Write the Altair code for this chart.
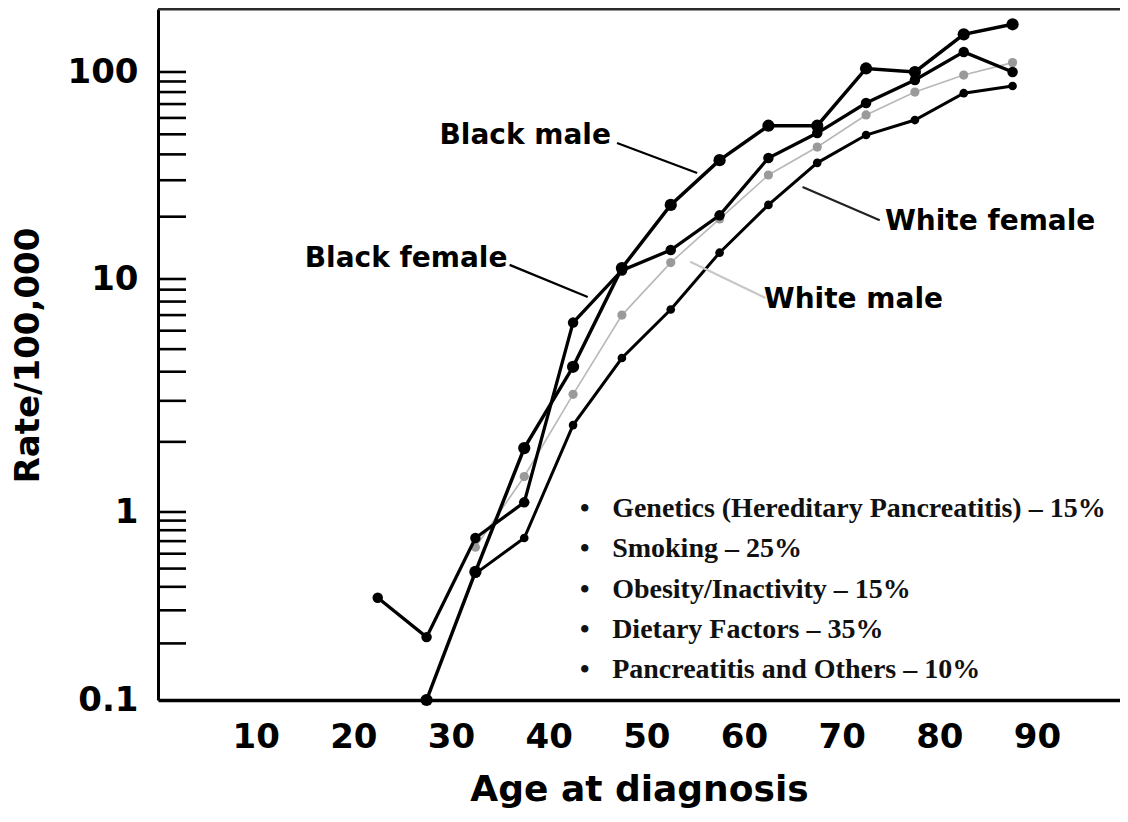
import altair as alt
import pandas as pd

# ---- data ----
ages = [22.5, 27.5, 32.5, 37.5, 42.5, 47.5, 52.5, 57.5, 62.5, 67.5, 72.5, 77.5, 82.5, 87.5]
black_male = [None, 0.10, 0.48, 1.88, 4.2, 11.3, 22.8, 37.5, 55, 55, 104, 100, 152, 170]
black_female = [0.35, 0.216, 0.727, 1.10, 6.5, 11.0, 13.8, 20.3, 38.4, 50.7, 70.8, 91.5, 125, 100]
white_female = [None, None, 0.47, 0.727, 2.36, 4.58, 7.4, 13.4, 22.8, 36.4, 49.6, 58.6, 79, 85.6]
white_male = [None, None, 0.65, 1.42, 3.2, 7.0, 12.0, 19.5, 31.8, 43.4, 62, 80, 96.7, 111]

x_tick_labels = [10, 20, 30, 40, 50, 60, 70, 80, 90]
y_tick_labels = [0.1, 1, 10, 100]
y_minor_ticks = [0.2, 0.3, 0.4, 0.5, 0.6, 0.7, 0.8, 0.9, 1, 2, 3, 4, 5, 6, 7, 8, 9,
                 10, 20, 30, 40, 50, 60, 70, 80, 90, 100]

label_text = ["Black male", "Black female", "White female", "White male"]
label_age = [37.6, 25.4, 85.2, 71.2]
label_rate = [44.9, 11.4, 17.3, 7.51]

pointer_series = ["Black male", "Black female", "White female", "White male"]
pointer_age1 = [47.0, 36.0, 73.9, 62.2]
pointer_age2 = [55.2, 44.0, 66.0, 54.5]
pointer_rate1 = [45.4, 11.7, 19.2, 8.29]
pointer_rate2 = [32.5, 8.37, 27.8, 12.1]

risk_lines = [
    "Genetics (Hereditary Pancreatitis) \u2013 15%",
    "Smoking \u2013 25%",
    "Obesity/Inactivity \u2013 15%",
    "Dietary Factors \u2013 35%",
    "Pancreatitis and Others \u2013 10%",
]
risk_age = [46.5]
risk_rate = [0.94]
bullet_age = [43.7]

# ---- tables ----
rows = []
for name, vals in [("White male", white_male), ("White female", white_female),
                   ("Black female", black_female), ("Black male", black_male)]:
    for a, v in zip(ages, vals):
        if v is not None:
            rows.append({"age": a, "rate": v, "series": name})
df = pd.DataFrame(rows)

ticks_df = pd.DataFrame({"v": y_minor_ticks})
labels_df = pd.DataFrame({"ax": label_age, "ay": label_rate, "text": label_text})
ptr_df = pd.DataFrame({"s": pointer_series, "x1": pointer_age1, "x2": pointer_age2,
                       "y1": pointer_rate1, "y2": pointer_rate2})
risk_df = pd.DataFrame({"ax": risk_age, "ay": risk_rate, "bx": bullet_age})

W, H = 962, 691
SANS = "DejaVu Sans"
SERIF = "Liberation Serif"

yscale = alt.Scale(type="log", domain=[0.1, 1, 10, 100, 201.5],
                   range=[691, 503, 270, 63, 0], nice=False)
xscale = alt.Scale(domain=[0, 98.5], nice=False, zero=False)

yaxis = alt.Axis(values=y_tick_labels, format="~g", ticks=False, grid=False,
                 domainWidth=3, domainColor="black",
                 labelFont=SANS, labelFontSize=34, labelFontWeight="bold",
                 labelColor="black", labelPadding=20, labelFlush=False,
                 labelOverlap=False, labelBound=False,
                 title="Rate/100,000", titleFont=SANS, titleFontSize=34,
                 titleFontWeight="bold", titleColor="black",
                 titleX=-130, titleY=346, titleBaseline="middle")
xaxis = alt.Axis(values=x_tick_labels, ticks=False, grid=False,
                 domainWidth=3.5, domainColor="black",
                 labelFont=SANS, labelFontSize=34, labelFontWeight="bold",
                 labelColor="black", labelPadding=20, labelFlush=False,
                 labelOverlap=False,
                 title="Age at diagnosis", titleFont=SANS, titleFontSize=36,
                 titleFontWeight="bold", titleColor="black",
                 titleX=W / 2, titleY=89, titleBaseline="middle")


def X(f):
    return alt.X(f, type="quantitative", scale=xscale, axis=xaxis, title="Age at diagnosis")


def Y(f):
    return alt.Y(f, type="quantitative", scale=yscale, axis=yaxis, title="Rate/100,000")


styles = {
    "White male": dict(line="#b8b8b8", lw=1.6, pt="#9a9a9a", size=85),
    "White female": dict(line="black", lw=3, pt="black", size=75),
    "Black female": dict(line="black", lw=3.3, pt="black", size=110),
    "Black male": dict(line="black", lw=3.5, pt="black", size=150),
}

layers = []
for name in ["White male", "White female", "Black female", "Black male"]:
    st = styles[name]
    base = alt.Chart(df).transform_filter(alt.datum.series == name)
    layers.append(base.mark_line(color=st["line"], strokeWidth=st["lw"]).encode(
        x=X("age"), y=Y("rate")))
    layers.append(base.mark_circle(color=st["pt"], opacity=1, size=st["size"]).encode(
        x=X("age"), y=Y("rate")))

# inside minor ticks on the y axis
layers.append(alt.Chart(ticks_df).mark_rule(color="black", strokeWidth=2.6).encode(
    y=Y("v"), x=alt.value(0), x2=alt.value(28)))

# top frame line
layers.append(alt.Chart(ticks_df.head(1)).mark_rule(color="#2a2a2a", strokeWidth=3).encode(
    y=alt.value(0), x=alt.value(0), x2=alt.value(W)))

# pointers
layers.append(alt.Chart(ptr_df).mark_rule(strokeWidth=2.2).encode(
    x=X("x1"), x2="x2", y=Y("y1"), y2="y2",
    color=alt.Color("s:N", scale=alt.Scale(domain=pointer_series,
                                           range=["black", "black", "#222", "#c8c8c8"]),
                    legend=None)))

# series labels
layers.append(alt.Chart(labels_df).mark_text(font=SANS, fontWeight="bold", fontSize=28,
                                             color="black", align="center",
                                             baseline="alphabetic").encode(
    x=X("ax"), y=Y("ay"), text="text:N"))

# risk factor list
layers.append(alt.Chart(risk_df).mark_text(font=SERIF, fontWeight="bold", fontSize=28,
                                           color="#111", align="left", baseline="alphabetic",
                                           lineHeight=40.3).encode(
    x=X("ax"), y=Y("ay"), text=alt.value(risk_lines)))
layers.append(alt.Chart(risk_df).mark_text(font=SERIF, fontWeight="bold", fontSize=27,
                                           color="#111", align="center", baseline="alphabetic",
                                           lineHeight=40.3).encode(
    x=X("bx"), y=Y("ay"), text=alt.value(["\u2022"] * 5)))

chart = alt.layer(*layers).properties(
    width=W, height=H,
    autosize=alt.AutoSizeParams(type="none"),
    padding={"left": 150, "top": 1, "right": 0, "bottom": 114},
    background="white",
).configure_view(stroke=None)

chart.save("out.html", embed_options={"renderer": "svg", "actions": False})
